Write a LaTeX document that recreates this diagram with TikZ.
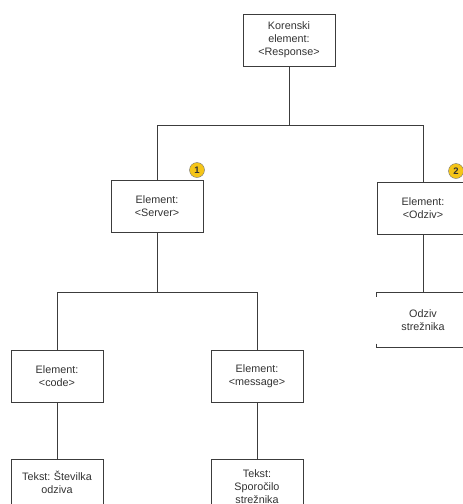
\documentclass[tikz,border=0pt]{standalone}
\usepackage{fontspec}
\setmainfont{Liberation Sans}
\usetikzlibrary{positioning}
\frenchspacing
\definecolor{linegray}{RGB}{60,60,60}
\definecolor{textgray}{RGB}{50,50,50}
\definecolor{badgeyellow}{RGB}{245,197,24}

\begin{document}
\begin{tikzpicture}[x=1pt,y=-1pt,
    box/.style={draw=linegray, line width=1pt, minimum width=92pt, minimum height=52pt,
        text width=84pt, align=center, font=\fontsize{10.8}{12.8}\selectfont, text=textgray},
    link/.style={draw=linegray, line width=1pt},
    badge/.style={circle, draw=linegray!70, fill=badgeyellow, inner sep=0pt,
        minimum size=15pt, font=\fontsize{9.5}{9.5}\selectfont\bfseries, text=textgray}]
    \useasboundingbox (0,0) rectangle (463,504);
    \clip (0,0) rectangle (463,504);

    % Root
    \node[box] (root) at (289,40) {Korenski\\element:\\<Response>};

    % First level
    \node[box] (server) at (157,206) {Element:\\<Server>};
    \node[box] (odziv) at (423,208) {Element:\\<Odziv>};
    \node[badge] (badge1) at (197,170) {1};
    \node[badge] (badge2) at (456,171) {2};

    % Second level
    \node[box, draw=none, minimum height=54pt] (streznik) at (423,320) {Odziv\\strežnika};
    \draw[link] (streznik.north west) ++(0,4) -- (streznik.north west) -- (streznik.north east);
    \draw[link] (streznik.south west) ++(0,-4) -- (streznik.south west) -- (streznik.south east);
    \node[box] (code) at (57,376) {Element:\\<code>};
    \node[box] (message) at (257,376) {Element:\\<message>};

    % Leaves
    \node[box, minimum height=46pt, anchor=north] (stevilka) at (57,459) {Tekst: Številka\\odziva};
    \node[box, minimum height=54pt, anchor=north] (sporocilo) at (257,459) {Tekst:\\Sporočilo\\strežnika};

    % Connectors
    \coordinate (rootsplit) at (289,125);
    \draw[link] (root) -- (rootsplit) -| (server);
    \draw[link] (rootsplit) -| (odziv);
    \draw[link] (odziv) -- (streznik.north);
    \coordinate (serversplit) at (157,292);
    \draw[link] (server) -- (serversplit) -| (code);
    \draw[link] (serversplit) -| (message);
    \draw[link] (code) -- (stevilka);
    \draw[link] (message) -- (sporocilo);
\end{tikzpicture}
\end{document}
